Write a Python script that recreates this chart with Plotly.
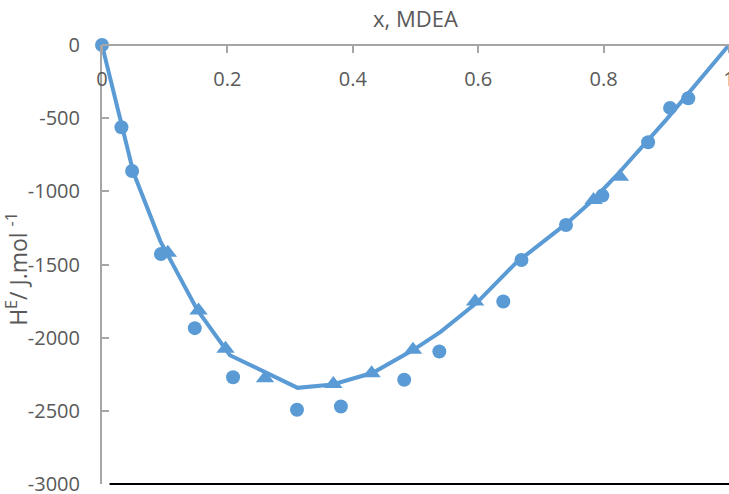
import plotly.graph_objects as go

# Experimental series 1 (circles)
x_circ = [0, 0.031, 0.048, 0.094, 0.148, 0.209, 0.311, 0.381, 0.482, 0.538, 0.640, 0.669, 0.740, 0.798, 0.871, 0.906, 0.935]
y_circ = [0, -562, -861, -1428, -1935, -2270, -2493, -2470, -2288, -2095, -1753, -1469, -1230, -1029, -665, -430, -364]

# Experimental series 2 (triangles)
x_tri = [0.105, 0.154, 0.197, 0.260, 0.369, 0.430, 0.496, 0.595, 0.784, 0.826]
y_tri = [-1420, -1815, -2075, -2277, -2316, -2243, -2083, -1753, -1059, -900]

# Model curve
x_fit = [0, 0.032, 0.05, 0.093, 0.152, 0.204, 0.312, 0.368, 0.432, 0.496, 0.54, 0.598, 0.66, 0.742, 0.783, 0.821, 0.9, 1.0]
y_fit = [0, -560, -870, -1340, -1810, -2120, -2343, -2320, -2240, -2085, -1960, -1760, -1490, -1216, -1059, -890, -510, 0]

x_ticks = [0, 0.2, 0.4, 0.6, 0.8, 1]
x_ticktext = ["0", "0.2", "0.4", "0.6", "0.8", "1"]
y_ticks = [0, -500, -1000, -1500, -2000, -2500, -3000]
y_ticktext = ["0", "-500", "-1000", "-1500", "-2000", "-2500", "-3000"]

BLUE = "#5B9BD5"
GRAY = "#A6A6A6"
TXT = "#595959"
FONT = "Open Sans"

fig = go.Figure()
fig.add_trace(go.Scatter(x=x_tri, y=y_tri, mode="markers",
                         marker=dict(symbol="triangle-up", size=16, color=BLUE),
                         cliponaxis=False, showlegend=False))
fig.add_trace(go.Scatter(x=x_fit, y=y_fit, mode="lines",
                         line=dict(color=BLUE, width=4),
                         cliponaxis=False, showlegend=False))
fig.add_trace(go.Scatter(x=x_circ, y=y_circ, mode="markers",
                         marker=dict(symbol="circle", size=14, color=BLUE),
                         cliponaxis=False, showlegend=False))

fig.update_layout(
    width=729, height=494,
    margin=dict(l=102, r=0, t=45, b=10, autoexpand=False),
    plot_bgcolor="white", paper_bgcolor="white",
    font=dict(family=FONT, size=20, color=TXT),
    xaxis=dict(range=[0, 1], side="bottom", anchor="free", position=1,
               tickvals=x_ticks, ticktext=x_ticktext, automargin=False,
               showline=True, linecolor=GRAY, linewidth=2,
               ticks="outside", ticklen=7, tickcolor=GRAY, tickwidth=2,
               ticklabelstandoff=9, ticklabeloverflow="allow",
               showgrid=False, zeroline=False,
               tickfont=dict(family=FONT, size=20, color=TXT)),
    yaxis=dict(range=[-3000, 0], tickvals=y_ticks, ticktext=y_ticktext, automargin=False,
               showline=True, linecolor=GRAY, linewidth=2,
               ticks="inside", ticklen=7, tickcolor=GRAY, tickwidth=2,
               ticklabelstandoff=16, ticklabeloverflow="allow",
               showgrid=False, zeroline=False,
               tickfont=dict(family=FONT, size=20, color=TXT)),
    shapes=[dict(type="line", xref="paper", yref="paper", x0=0.012, x1=1, y0=0, y1=0,
                 line=dict(color="black", width=2))],
    annotations=[
        dict(text="x, MDEA", xref="paper", yref="paper", x=0.5, y=1, yshift=27,
             xanchor="center", yanchor="middle", showarrow=False,
             font=dict(family=FONT, size=22, color=TXT)),
        dict(text="H<sup>E</sup>/ J.mol <sup>-1</sup>", xref="paper", yref="paper",
             x=-0.1356, y=0.49, xanchor="center", yanchor="middle", textangle=-90,
             showarrow=False, font=dict(family=FONT, size=23, color=TXT)),
    ],
)

fig.write_html("out.html")
